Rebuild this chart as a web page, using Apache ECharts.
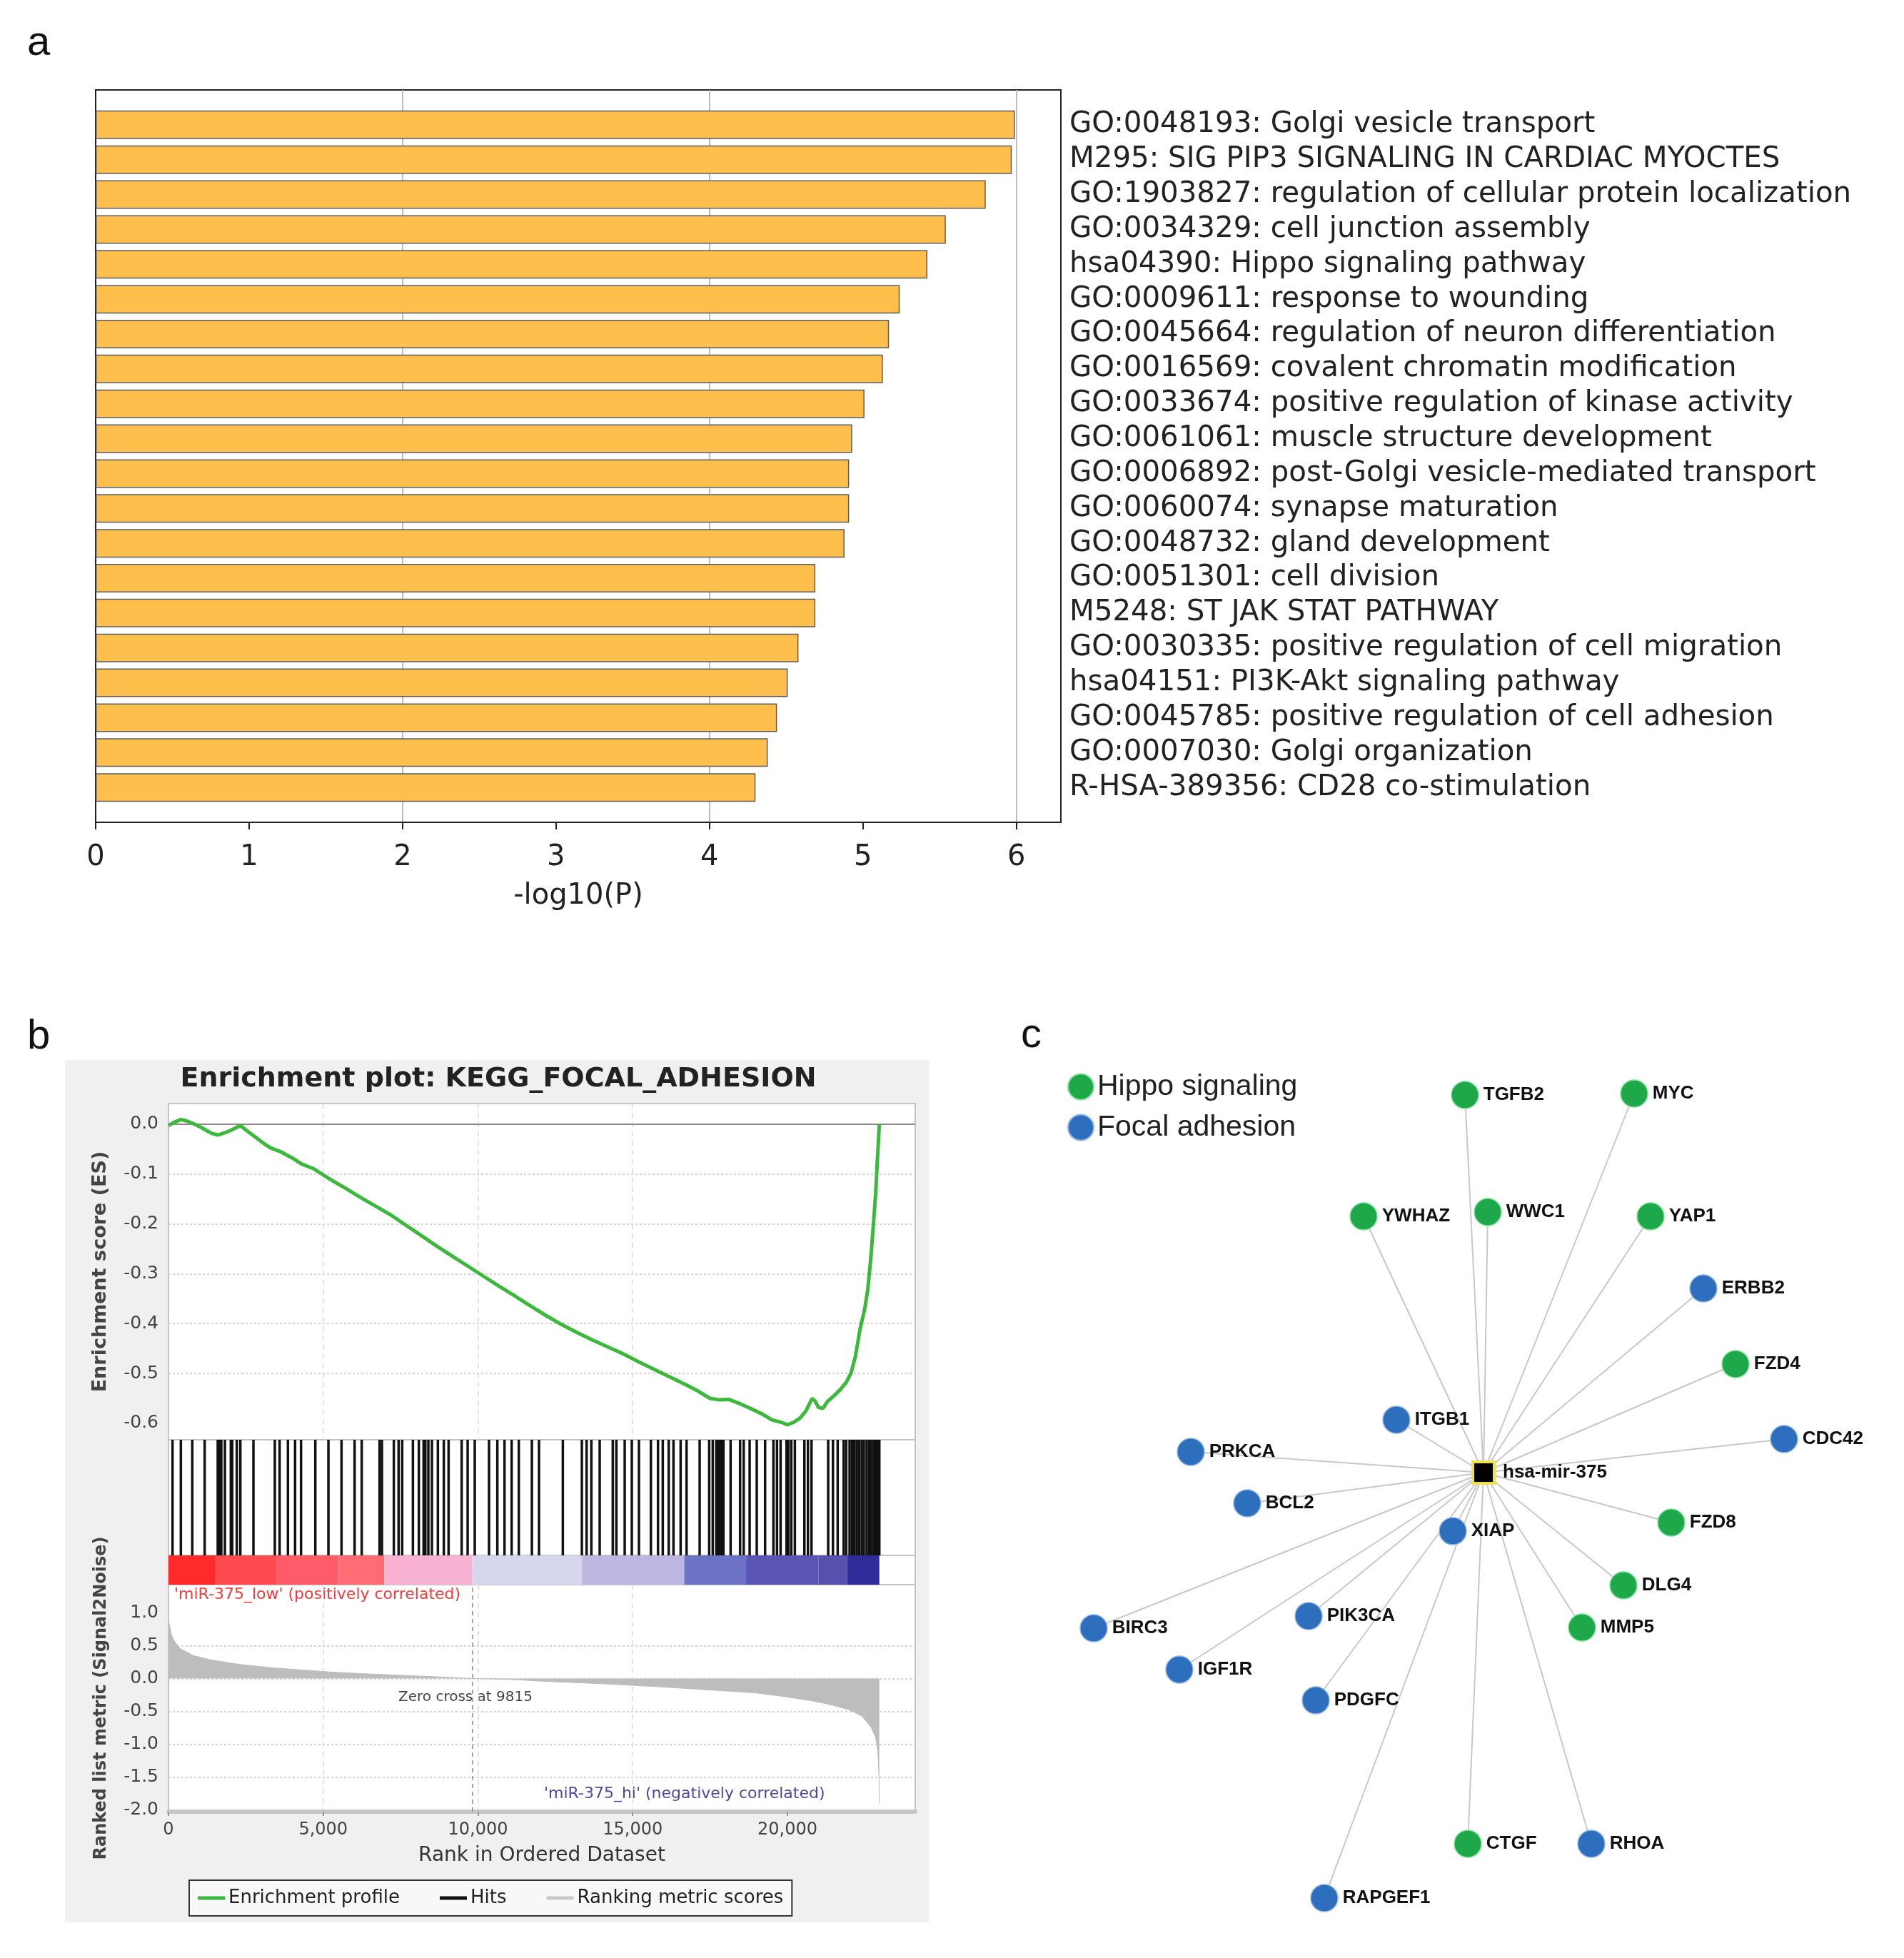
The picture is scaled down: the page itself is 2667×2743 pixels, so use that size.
<!DOCTYPE html>
<html><head><meta charset="utf-8">
<script src="https://cdn.jsdelivr.net/npm/echarts@6/dist/echarts.min.js"></script>
<style>html,body{margin:0;padding:0;background:#fff}#c{width:2667px;height:2743px}</style>
</head><body><div id="c"></div>
<script>
// ---------- Panel a data ----------
const goTerms = [
  'GO:0048193: Golgi vesicle transport',
  'M295: SIG PIP3 SIGNALING IN CARDIAC MYOCTES',
  'GO:1903827: regulation of cellular protein localization',
  'GO:0034329: cell junction assembly',
  'hsa04390: Hippo signaling pathway',
  'GO:0009611: response to wounding',
  'GO:0045664: regulation of neuron differentiation',
  'GO:0016569: covalent chromatin modification',
  'GO:0033674: positive regulation of kinase activity',
  'GO:0061061: muscle structure development',
  'GO:0006892: post-Golgi vesicle-mediated transport',
  'GO:0060074: synapse maturation',
  'GO:0048732: gland development',
  'GO:0051301: cell division',
  'M5248: ST JAK STAT PATHWAY',
  'GO:0030335: positive regulation of cell migration',
  'hsa04151: PI3K-Akt signaling pathway',
  'GO:0045785: positive regulation of cell adhesion',
  'GO:0007030: Golgi organization',
  'R-HSA-389356: CD28 co-stimulation'
];
const goValues = [5.99, 5.97, 5.80, 5.54, 5.42, 5.24, 5.17, 5.13, 5.01, 4.93,
                  4.91, 4.91, 4.88, 4.69, 4.69, 4.58, 4.51, 4.44, 4.38, 4.30];
const log10Ticks = [0, 1, 2, 3, 4, 5, 6];

// ---------- Panel b data ----------
const esRank = [0, 200, 400, 600, 800, 1000, 1200, 1400, 1600, 1800, 2000, 2200, 2330, 2500, 2800, 3100, 3300, 3600,
  4000, 4300, 4700, 5200, 5700, 6200, 6700, 7200, 7700, 8200, 8700, 9200, 9700, 10200, 10700, 11200, 11700, 12200,
  12700, 13200, 13700, 14200, 14700, 15200, 15700, 16200, 16700, 17100, 17500, 17800, 18100, 18400, 18800, 19200,
  19500, 19800, 20000, 20200, 20400, 20600, 20800, 20900, 21000, 21150, 21300, 21500, 21700, 21900, 22050, 22200,
  22350, 22500, 22600, 22700, 22780, 22850, 22900, 22940, 22970];
const esScore = [-0.003, 0.004, 0.009, 0.006, 0.001, -0.005, -0.012, -0.019, -0.022, -0.018, -0.013, -0.007, -0.003,
  -0.012, -0.026, -0.040, -0.048, -0.055, -0.068, -0.080, -0.090, -0.110, -0.128, -0.147, -0.165, -0.183, -0.204,
  -0.225, -0.246, -0.266, -0.286, -0.306, -0.326, -0.345, -0.365, -0.384, -0.402, -0.418, -0.433, -0.447, -0.461,
  -0.477, -0.492, -0.507, -0.522, -0.535, -0.550, -0.553, -0.552, -0.559, -0.570, -0.582, -0.593, -0.598, -0.603,
  -0.598, -0.590, -0.575, -0.550, -0.556, -0.568, -0.570, -0.556, -0.545, -0.533, -0.518, -0.500, -0.465, -0.410,
  -0.370, -0.330, -0.265, -0.200, -0.140, -0.080, -0.035, 0.000];
const hitRanks = [131, 400, 769, 1169, 1592, 1650, 1707, 1823, 2015, 2060, 2207, 2322, 2745, 3437, 3591, 3860, 4091,
  4283, 4745, 5168, 5591, 6014, 6244, 6821, 6898, 7282, 7436, 7552, 7898, 8090, 8244, 8300, 8397, 8513, 8705, 8897,
  9051, 9474, 9667, 9897, 10358, 10627, 10858, 11089, 11320, 11743, 11973, 12743, 13358, 13511, 13665, 13934, 14357,
  14473, 14742, 14972, 15203, 15588, 15818, 15972, 16164, 16318, 16549, 16741, 17164, 17472, 17587, 17702, 17760,
  17818, 17880, 17933, 18164, 18471, 18587, 18779, 19010, 19279, 19548, 19663, 19779, 19971, 20030, 20125, 20240,
  20548, 20663, 20779, 21317, 21471, 21624, 21817, 21900, 22009, 22090, 22163, 22240, 22316, 22400, 22470, 22560,
  22640, 22701, 22780, 22855, 22920, 22970];
const metricRank = [0, 40, 100, 200, 400, 800, 1400, 2300, 3300, 4300, 5200, 6200, 7200, 8200, 9100, 9815, 11000,
  12000, 13000, 14000, 15000, 16000, 17000, 18000, 19000, 19800, 20800, 21500, 22000, 22400, 22700, 22850, 22920,
  22960, 22970];
const metricValue = [0.88, 0.80, 0.66, 0.56, 0.45, 0.35, 0.28, 0.215, 0.165, 0.13, 0.10, 0.075, 0.055, 0.035, 0.017,
  0, -0.012, -0.04, -0.06, -0.08, -0.105, -0.13, -0.16, -0.19, -0.22, -0.27, -0.34, -0.41, -0.48, -0.57, -0.74,
  -0.9, -1.1, -1.5, -1.9];
const rampEdges = [0, 1500, 3500, 5500, 6975, 9815, 13358, 16664, 18664, 21000, 21932, 22970];
const rampColors = ['#ff2b2b', '#ff4a4f', '#ff5c6a', '#ff6c74', '#f9b3d2', '#d6d6ef', '#bdb6e0', '#6d72c4',
  '#5b55b5', '#5750ae', '#2f2b98'];
const esTicks = [0, -0.1, -0.2, -0.3, -0.4, -0.5, -0.6];
const metricTicks = [1.0, 0.5, 0, -0.5, -1.0, -1.5, -2.0];
const rankTicks = [0, 5000, 10000, 15000, 20000];
const zeroCross = 9815;

// ---------- Panel c data ----------
const hubName = 'hsa-mir-375';
const groupNames = ['Hippo signaling', 'Focal adhesion'];
const geneNames = ['TGFB2', 'MYC', 'YWHAZ', 'WWC1', 'YAP1', 'ERBB2', 'FZD4', 'ITGB1', 'CDC42', 'PRKCA', 'BCL2',
  'XIAP', 'FZD8', 'DLG4', 'BIRC3', 'PIK3CA', 'MMP5', 'IGF1R', 'PDGFC', 'CTGF', 'RHOA', 'RAPGEF1'];
const geneGroup = [0, 0, 0, 0, 0, 1, 0, 1, 1, 1, 1, 1, 0, 0, 1, 1, 0, 1, 1, 0, 1, 1];
const geneX = [-2.6, 21.1, -16.8, 0.6, 23.4, 30.8, 35.3, -12.2, 42.1, -41.0, -33.1, -4.3, 26.3, 19.6, -54.6, -24.5,
  13.8, -42.6, -23.5, -2.2, 15.1, -22.3];
const geneY = [52.9, 53.1, 35.9, 36.5, 35.9, 25.8, 15.2, 7.4, 4.7, 2.9, -4.3, -8.2, -7.0, -15.8, -21.8, -20.1,
  -21.7, -27.6, -31.9, -52.0, -52.0, -59.6];

// ---------- styles ----------
const FA = "'DejaVu Sans', sans-serif";
const FC = "'Liberation Sans', Arial, sans-serif";
const GREEN = '#1fa84a', BLUE = '#2d6ebd';
const RANK_MAX = 24130;

const chart = echarts.init(document.getElementById('c'), null, {renderer: 'canvas', width: 2667, height: 2743});

const nodes = [{name: hubName, value: [0, 0], category: 2, symbol: 'rect', symbolSize: 30,
  itemStyle: {color: '#000', borderColor: '#f0e24c', borderWidth: 4}, label: {distance: 10}}];
geneNames.forEach((g, i) => nodes.push({name: g, value: [geneX[i], geneY[i]], category: geneGroup[i]}));
const links = geneNames.map(g => ({source: g, target: hubName}));

const gridBase = {outerBoundsMode: 'none', containLabel: false};
const option = {
  backgroundColor: '#ffffff',
  animation: false,
  title: {
    text: 'Enrichment plot: KEGG_FOCAL_ADHESION', left: 693, top: 1488, textAlign: 'center',
    textStyle: {fontFamily: FA, fontSize: 38, fontWeight: 'bold', color: '#222'}
  },
  legend: [
    {
      data: ['Enrichment profile', 'Hits', 'Ranking metric scores'], left: 265, top: 2634, orient: 'horizontal',
      icon: 'rect', itemWidth: 38, itemHeight: 5, itemGap: 56, padding: [12, 12],
      borderColor: '#333', borderWidth: 2, backgroundColor: '#f8f8f8', selectedMode: false,
      textStyle: {fontFamily: FA, fontSize: 26, color: '#222'}
    },
    {
      data: groupNames, left: 1490, top: 1497, orient: 'vertical', icon: 'circle',
      itemWidth: 36, itemHeight: 36, itemGap: 16, selectedMode: false,
      textStyle: {fontFamily: FC, fontSize: 41, color: '#222'}
    }
  ],
  graphic: [
    {type: 'rect', z: -100, shape: {x: 91, y: 1485, width: 1210, height: 1208}, style: {fill: '#f0f0f0'}},
    {type: 'text', left: 38, top: 32, style: {text: 'a', font: "58px 'Liberation Sans', Arial", fill: '#111'}},
    {type: 'text', left: 38, top: 1424, style: {text: 'b', font: "58px 'Liberation Sans', Arial", fill: '#111'}},
    {type: 'text', left: 1430, top: 1422, style: {text: 'c', font: "58px 'Liberation Sans', Arial", fill: '#111'}},
    {type: 'text', left: 244, top: 2223, style: {text: "'miR-375_low' (positively correlated)", font: "22px 'DejaVu Sans'", fill: '#f03c3c'}},
    {type: 'text', left: 558, top: 2368, style: {text: 'Zero cross at 9815', font: "20px 'DejaVu Sans'", fill: '#444'}},
    {type: 'text', left: 762, top: 2502, style: {text: "'miR-375_hi' (negatively correlated)", font: "22px 'DejaVu Sans'", fill: '#4a4aa0'}}
  ],
  grid: [
    Object.assign({left: 134, top: 126, width: 1352, height: 1026, show: true, borderColor: '#222', borderWidth: 2, backgroundColor: 'transparent'}, gridBase),
    Object.assign({left: 236, top: 1546, width: 1046, height: 471, show: true, borderColor: '#c4c4c4', borderWidth: 2, backgroundColor: '#fff'}, gridBase),
    Object.assign({left: 236, top: 2017, width: 1046, height: 162, show: true, borderColor: '#c4c4c4', borderWidth: 2, backgroundColor: '#fff'}, gridBase),
    Object.assign({left: 236, top: 2179, width: 1046, height: 41, show: true, borderColor: '#c4c4c4', borderWidth: 2, backgroundColor: '#fff'}, gridBase),
    Object.assign({left: 236, top: 2220, width: 1046, height: 318, show: true, borderColor: '#c4c4c4', borderWidth: 2, backgroundColor: '#fff'}, gridBase),
    Object.assign({left: 1428, top: 1463, width: 1150, height: 1250, show: false}, gridBase)
  ],
  xAxis: [
    { // 0 panel a value axis
      gridIndex: 0, type: 'value', min: 0, max: 6.29,
      axisLine: {show: true, onZero: false, lineStyle: {color: '#222', width: 2}},
      axisTick: {show: true, length: 10, customValues: log10Ticks, lineStyle: {color: '#222', width: 2}},
      axisLabel: {customValues: log10Ticks, fontFamily: FA, fontSize: 40, color: '#222', margin: 30},
      splitLine: {show: false},
      name: '-log10(P)', nameLocation: 'middle', nameGap: 84,
      nameTextStyle: {fontFamily: FA, fontSize: 40, color: '#222'}
    },
    { // 1 panel a gridlines
      gridIndex: 0, type: 'value', min: 0, max: 6.29, interval: 2, position: 'top',
      axisLine: {show: false}, axisTick: {show: false}, axisLabel: {show: false},
      splitLine: {show: true, showMinLine: false, showMaxLine: false, lineStyle: {color: '#bcbcbc', width: 2}}
    },
    { // 2 ES x
      gridIndex: 1, type: 'value', min: 0, max: RANK_MAX,
      axisLine: {show: false}, axisTick: {show: false, customValues: rankTicks}, axisLabel: {show: false},
      splitLine: {show: true, showMinLine: false, showMaxLine: false, lineStyle: {color: '#e4d8d8', width: 1.5, type: [7, 6]}}
    },
    { // 3 hits x
      gridIndex: 2, type: 'value', min: 0, max: RANK_MAX, show: false
    },
    { // 4 ramp x
      gridIndex: 3, type: 'value', min: 0, max: RANK_MAX, show: false
    },
    { // 5 metric x
      gridIndex: 4, type: 'value', min: 0, max: RANK_MAX,
      axisLine: {show: true, onZero: false, lineStyle: {color: '#c6c6c6', width: 6}},
      axisTick: {show: true, length: 6, customValues: rankTicks, lineStyle: {color: '#999', width: 2}},
      axisLabel: {customValues: rankTicks, formatter: v => Number(v).toLocaleString('en-US'),
        fontFamily: FA, fontSize: 24, color: '#444', margin: 14},
      splitLine: {show: true, showMinLine: false, showMaxLine: false, lineStyle: {color: '#e4d8d8', width: 1.5, type: [7, 6]}},
      name: 'Rank in Ordered Dataset', nameLocation: 'middle', nameGap: 48,
      nameTextStyle: {fontFamily: FA, fontSize: 28, color: '#333'}
    },
    { // 6 network x
      gridIndex: 5, type: 'value', min: -65, max: 50, show: false
    }
  ],
  yAxis: [
    { // 0 panel a categories
      gridIndex: 0, type: 'category', data: [''].concat(goTerms, ['']), inverse: true, boundaryGap: false,
      position: 'right', axisLine: {show: false}, axisTick: {show: false},
      axisLabel: {interval: 0, fontFamily: FA, fontSize: 40.3, color: '#222', margin: 12}
    },
    { // 1 ES y
      gridIndex: 1, type: 'value', min: -0.633, max: 0.041,
      axisLine: {show: false}, axisTick: {show: false, customValues: esTicks},
      axisLabel: {customValues: esTicks, formatter: v => Number(v).toFixed(1), fontFamily: FA, fontSize: 25, color: '#444', margin: 14},
      splitLine: {show: true, showMinLine: false, showMaxLine: false, lineStyle: {color: '#d4d4d4', width: 2, type: [3, 3]}},
      name: 'Enrichment score (ES)', nameLocation: 'middle', nameRotate: 90, nameGap: 82,
      nameTextStyle: {fontFamily: FA, fontSize: 27, fontWeight: 'bold', color: '#444'}
    },
    { // 2 hits y
      gridIndex: 2, type: 'value', min: 0, max: 1.05, show: false
    },
    { // 3 ramp y
      gridIndex: 3, type: 'value', min: 0, max: 1, show: false
    },
    { // 4 metric y
      gridIndex: 4, type: 'value', min: -2.03, max: 1.43,
      axisLine: {show: false}, axisTick: {show: false, customValues: metricTicks},
      axisLabel: {customValues: metricTicks, formatter: v => Number(v).toFixed(1), fontFamily: FA, fontSize: 25, color: '#444', margin: 14},
      splitLine: {show: true, showMinLine: false, showMaxLine: false, lineStyle: {color: '#d4d4d4', width: 2, type: [3, 3]}},
      name: 'Ranked list metric (Signal2Noise)', nameLocation: 'middle', nameRotate: 90, nameGap: 82,
      nameTextStyle: {fontFamily: FA, fontSize: 24, fontWeight: 'bold', color: '#444'}
    },
    { // 5 network y
      gridIndex: 5, type: 'value', min: -65, max: 60, show: false
    }
  ],
  series: [
    {
      type: 'bar', xAxisIndex: 0, yAxisIndex: 0, barWidth: 40,
      data: [null].concat(goValues, [null]),
      itemStyle: {color: '#ffbf4d', borderColor: '#5e5e5e', borderWidth: 1.5}
    },
    {
      name: 'Enrichment profile', type: 'line', xAxisIndex: 2, yAxisIndex: 1,
      data: esRank.map((r, i) => [r, esScore[i]]), showSymbol: false,
      lineStyle: {color: '#3cb83c', width: 5}, itemStyle: {color: '#3cb83c'}, z: 5,
      markLine: {silent: true, symbol: ['none', 'none'], label: {show: false}, z: 3,
        lineStyle: {color: '#8a8a8a', width: 2, type: 'solid'}, data: [{yAxis: 0}]}
    },
    {
      name: 'Hits', type: 'custom', xAxisIndex: 3, yAxisIndex: 2,
      data: hitRanks.map(r => [r, 0]), encode: {x: 0, y: 1},
      itemStyle: {color: '#111'},
      renderItem: (params, api) => {
        const top = api.coord([api.value(0), 1.05]);
        const bot = api.coord([api.value(0), 0]);
        return {type: 'line', shape: {x1: top[0], y1: top[1], x2: bot[0], y2: bot[1]},
          style: {stroke: '#111', lineWidth: 3.5}};
      }
    },
    {
      type: 'custom', xAxisIndex: 4, yAxisIndex: 3,
      data: rampColors.map((c, i) => [rampEdges[i], rampEdges[i + 1], i]), encode: {x: [0, 1]},
      renderItem: (params, api) => {
        const p0 = api.coord([api.value(0), 1]);
        const p1 = api.coord([api.value(1), 0]);
        return {type: 'rect', shape: {x: p0[0], y: p0[1], width: p1[0] - p0[0], height: p1[1] - p0[1]},
          style: {fill: rampColors[api.value(2)]}};
      }
    },
    {
      name: 'Ranking metric scores', type: 'line', xAxisIndex: 5, yAxisIndex: 4,
      data: metricRank.map((r, i) => [r, metricValue[i]]), showSymbol: false,
      lineStyle: {color: '#bdbdbd', width: 1}, itemStyle: {color: '#c8c8c8'},
      areaStyle: {color: '#bdbdbd', opacity: 1},
      markLine: {silent: true, symbol: ['none', 'none'], label: {show: false},
        lineStyle: {color: '#8c8c8c', width: 1.5, type: [6, 5]}, data: [{xAxis: zeroCross}]}
    },
    {
      type: 'graph', coordinateSystem: 'cartesian2d', xAxisIndex: 6, yAxisIndex: 5, layout: 'none',
      symbolSize: 38, roam: false,
      categories: [
        {name: groupNames[0], itemStyle: {color: GREEN, borderColor: '#7fe39a', borderWidth: 1.5}},
        {name: groupNames[1], itemStyle: {color: BLUE, borderColor: '#8fb6e6', borderWidth: 1.5}},
        {name: 'miRNA', itemStyle: {color: '#000'}}
      ],
      data: nodes, links: links,
      lineStyle: {color: '#c8c8c8', width: 2, opacity: 1, curveness: 0},
      label: {show: true, position: 'right', distance: 6, fontFamily: FC, fontSize: 26, fontWeight: 'bold', color: '#111'},
      emphasis: {disabled: true}
    }
  ]
};
chart.setOption(option);
</script>
</body></html>
